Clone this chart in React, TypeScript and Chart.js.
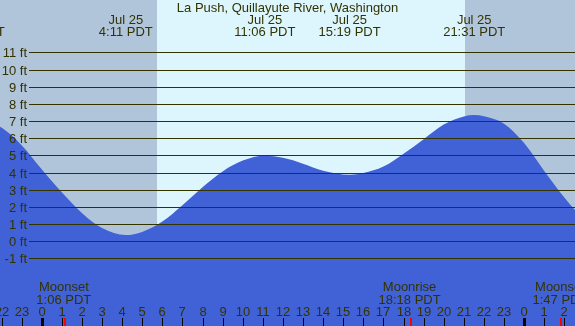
import { useEffect, useRef } from "react";
import { Chart, registerables } from "chart.js";

Chart.register(...registerables);

const title = "La Push, Quillayute River, Washington";

// Tide curve: hours since midnight Jul 25 (PDT) and height in feet
const tideHours = [-4, -3.383, -3, -2, -1, 0, 1, 2, 3, 4.183, 5, 6, 7, 8, 9, 10, 11.1, 12, 13, 14, 15.317, 16, 17, 18, 19, 20, 21, 21.517, 22, 23, 24, 25, 26, 27];
const tideFeet = [7.1, 7.25, 7.18, 6.62, 5.6, 4.2, 2.85, 1.65, 0.77, 0.37, 0.55, 1.15, 2.1, 3.15, 4.07, 4.7, 4.98, 4.86, 4.52, 4.11, 3.88, 3.98, 4.35, 5.1, 5.95, 6.8, 7.27, 7.35, 7.28, 6.85, 5.72, 4.1, 2.55, 1.2];

// High / low tide labels
const extremeHours = [-3.383, 4.183, 11.1, 15.317, 21.517];
const extremeDates = ["Jul 24", "Jul 25", "Jul 25", "Jul 25", "Jul 25"];
const extremeTimes = ["20:37 PDT", "4:11 PDT", "11:06 PDT", "15:19 PDT", "21:31 PDT"];

// Sun
const sunriseHour = 5.733;
const sunsetHour = 21.067;

// Moon
const moonHours = [1.1, 18.3, 25.783];
const moonEvents = ["Moonset", "Moonrise", "Moonset"];
const moonTimes = ["1:06 PDT", "18:18 PDT", "1:47 PDT"];

// Axes
const hourTicks = [-2, -1, 0, 1, 2, 3, 4, 5, 6, 7, 8, 9, 10, 11, 12, 13, 14, 15, 16, 17, 18, 19, 20, 21, 22, 23, 24, 25, 26];
const hourTickLabels = ["22", "23", "0", "1", "2", "3", "4", "5", "6", "7", "8", "9", "10", "11", "12", "13", "14", "15", "16", "17", "18", "19", "20", "21", "22", "23", "0", "1", "2"];
const ftTicks = [-1, 0, 1, 2, 3, 4, 5, 6, 7, 8, 9, 10, 11];
const ftTickLabels = ["-1 ft", "0 ft", "1 ft", "2 ft", "3 ft", "4 ft", "5 ft", "6 ft", "7 ft", "8 ft", "9 ft", "10 ft", "11 ft"];

const X_MIN = -2.075;
const X_MAX = 26.53;
const Y_MIN = -4.93;
const Y_MAX = 14.05;

const DAY = "#ddf6fe";
const NIGHT = "#b0c4da";
const WATER = "#4161d6";
const INK = "#333300";
const FONT = "13px 'Liberation Sans', Arial, sans-serif";

const decorPlugin = {
  id: "decor",
  beforeDatasetsDraw(chart: any) {
    const { ctx, chartArea, scales } = chart;
    const x = scales.x;
    ctx.save();
    ctx.fillStyle = DAY;
    ctx.fillRect(chartArea.left, chartArea.top, chartArea.right - chartArea.left, chartArea.bottom - chartArea.top);
    ctx.fillStyle = NIGHT;
    const sr = Math.round(x.getPixelForValue(sunriseHour));
    const ss = Math.round(x.getPixelForValue(sunsetHour));
    ctx.fillRect(chartArea.left, chartArea.top, sr - chartArea.left, chartArea.bottom - chartArea.top);
    ctx.fillRect(ss, chartArea.top, chartArea.right - ss, chartArea.bottom - chartArea.top);
    ctx.restore();
  },
  afterDatasetsDraw(chart: any) {
    const { ctx, chartArea, scales } = chart;
    const x = scales.x;
    const y = scales.y;
    ctx.save();
    ctx.font = FONT;
    // grid lines & y labels
    ftTicks.forEach((v, i) => {
      const py = Math.round(y.getPixelForValue(v)) + 0.5;
      ctx.strokeStyle = INK;
      ctx.lineWidth = 1;
      ctx.beginPath();
      ctx.moveTo(29, py);
      ctx.lineTo(chartArea.right, py);
      ctx.stroke();
      ctx.fillStyle = INK;
      ctx.textAlign = "right";
      ctx.textBaseline = "alphabetic";
      ctx.fillText(ftTickLabels[i], 27, py + 4.5);
    });
    // title
    ctx.textAlign = "center";
    ctx.fillStyle = INK;
    ctx.fillText(title, (chartArea.left + chartArea.right) / 2, 12);
    // extremes labels
    extremeHours.forEach((h, i) => {
      const px = x.getPixelForValue(h);
      ctx.fillText(extremeDates[i], px, 24);
      ctx.fillText(extremeTimes[i], px, 36);
    });
    // moon labels
    moonHours.forEach((h, i) => {
      const px = x.getPixelForValue(h);
      ctx.fillText(moonEvents[i], px, 291);
      ctx.fillText(moonTimes[i], px, 304);
    });
    // hour labels and ticks
    hourTicks.forEach((h, i) => {
      const px = Math.round(x.getPixelForValue(h));
      ctx.fillStyle = INK;
      ctx.fillText(hourTickLabels[i], px, 316);
      const midnight = hourTickLabels[i] === "0";
      ctx.fillStyle = "#000000";
      if (midnight) ctx.fillRect(px - 1, 318, 3, chartArea.bottom - 318);
      else ctx.fillRect(px, 318, 1, chartArea.bottom - 318);
    });
    ctx.fillStyle = "#ff0000";
    moonHours.forEach((h) => {
      const px = Math.round(x.getPixelForValue(h));
      ctx.fillRect(px, 318, 2, chartArea.bottom - 318);
    });
    ctx.restore();
  },
};

export default function App() {
  const ref = useRef<HTMLCanvasElement | null>(null);
  useEffect(() => {
    if (!ref.current) return;
    const data = tideHours.map((h, i) => ({ x: h, y: tideFeet[i] }));
    const chart = new Chart(ref.current, {
      type: "line",
      data: {
        datasets: [
          {
            data,
            fill: "start",
            backgroundColor: WATER,
            borderWidth: 0,
            borderColor: WATER,
            pointRadius: 0,
            cubicInterpolationMode: "monotone",
          } as any,
        ],
      },
      options: {
        animation: false,
        responsive: false,
        devicePixelRatio: 1,
        layout: { padding: 0 },
        plugins: { legend: { display: false }, tooltip: { enabled: false } },
        scales: {
          x: { type: "linear", min: X_MIN, max: X_MAX, display: false },
          y: { type: "linear", min: Y_MIN, max: Y_MAX, display: false },
        },
      },
      plugins: [decorPlugin],
    });
    return () => chart.destroy();
  }, []);
  return (
    <div style={{ position: "fixed", left: 0, top: 0, width: 575, height: 326 }}>
      <canvas ref={ref} width={575} height={326} style={{ display: "block" }} />
    </div>
  );
}
